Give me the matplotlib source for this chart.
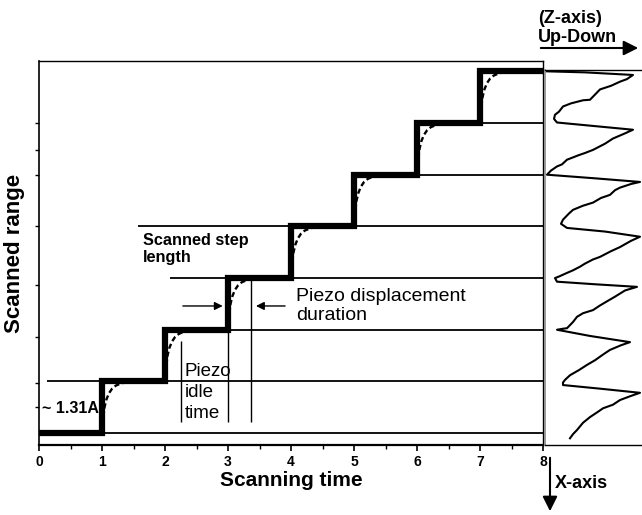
import numpy as np
import matplotlib.pyplot as plt
from matplotlib.patches import FancyArrowPatch

plt.rcParams['font.family'] = ['Liberation Sans', 'DejaVu Sans']

# staircase of piezo positions
step_t = [0, 1, 2, 3, 4, 5, 6, 7, 8]
step_lv = [0, 1, 2, 3, 4, 5, 6, 7, 7]

# thin level lines (level, start time)
level_y = [0, 1, 2, 3, 4, 5, 6]
level_start = [0, 0.12, 1.95, 2.08, 1.57, 5.0, 6.0]

# dashed relaxation after a step (offsets)
relax_dt = [0.0, 0.02, 0.04, 0.07, 0.11, 0.16, 0.22, 0.30, 0.40]
relax_dy = [0.0, 0.30, 0.50, 0.65, 0.77, 0.86, 0.92, 0.96, 0.99]

# thin vertical markers
mark_x = [2.25, 3.0, 3.37]
mark_lo = [0.21, 0.21, 0.21]
mark_hi = [1.78, 2.0, 2.97]

# height profile in the right panel (z in % of panel width, level)
prof_z = [2, 40, 88, 82, 75, 66, 55, 50, 45, 38, 32, 26, 18, 14, 10, 9, 12,
          50, 88, 80, 68, 60, 48, 40, 34, 22, 17, 12, 6, 2,
          50, 95, 86, 75, 70, 65, 56, 48, 38, 28, 24, 18, 16, 22,
          60, 95, 86, 75, 66, 55, 48, 40, 35, 28, 22, 14, 10, 12,
          50, 92, 80, 70, 62, 55, 48, 38, 32, 28, 22, 18, 12,
          45, 85, 76, 65, 58, 50, 42, 34, 25, 20, 18, 18,
          55, 95, 86, 75, 68, 58, 52, 45, 38, 32, 28, 25]
prof_lv = [7.0, 6.98, 6.93, 6.85, 6.80, 6.72, 6.65, 6.55, 6.45, 6.44, 6.41, 6.38, 6.32, 6.22, 6.16, 6.08, 6.01,
           5.94, 5.87, 5.80, 5.70, 5.60, 5.48, 5.42, 5.38, 5.29, 5.20, 5.16, 5.08, 5.00,
           4.93, 4.86, 4.82, 4.75, 4.70, 4.61, 4.55, 4.46, 4.40, 4.32, 4.25, 4.13, 4.05, 3.97,
           3.90, 3.80, 3.72, 3.60, 3.52, 3.41, 3.36, 3.28, 3.22, 3.15, 3.10, 3.03, 3.00, 2.93,
           2.88, 2.83, 2.76, 2.64, 2.55, 2.47, 2.38, 2.32, 2.25, 2.15, 2.03, 2.02, 2.00,
           1.88, 1.76, 1.70, 1.61, 1.52, 1.41, 1.32, 1.22, 1.12, 1.03, 0.98, 0.93,
           0.86, 0.78, 0.72, 0.64, 0.55, 0.48, 0.40, 0.31, 0.20, 0.06, -0.02, -0.10]

W, H = 642, 515
fig = plt.figure(figsize=(W / 100, H / 100), dpi=100)

ylo, yhi = -0.23, 7.2
ax = fig.add_axes([39 / W, (H - 445) / H, (543 - 39) / W, (445 - 61) / H])
ax.set_xlim(0, 8)
ax.set_ylim(ylo, yhi)

# thin horizontal level lines
ax.hlines(level_y, level_start, 8, color='black', lw=1.3)

# dashed relaxation curves
for k in range(1, 8):
    ax.plot(np.array(relax_dt) + k, np.array(relax_dy) + k - 1, color='black',
            lw=1.7, linestyle=(0, (2.2, 1.3)))

# thick staircase
ax.step(step_t, step_lv, where='post', color='black', lw=4.5, solid_joinstyle='miter')

# vertical markers
ax.vlines(mark_x, mark_lo, mark_hi, color='black', lw=1.0)

# arrows for displacement duration
arr = dict(arrowstyle='-|>', color='black', lw=1.0, mutation_scale=12)
ax.annotate('', xy=(2.96, 2.46), xytext=(2.24, 2.46), arrowprops=arr)
ax.annotate('', xy=(3.40, 2.46), xytext=(3.95, 2.46), arrowprops=arr)

ax.text(4.08, 2.46, 'Piezo displacement\nduration', fontsize=14, va='center',
        ha='left', linespacing=1.1)
ax.text(2.31, 0.79, 'Piezo\nidle\ntime', fontsize=13.5, va='center', ha='left',
        linespacing=1.3)
ax.text(1.65, 3.56, 'Scanned step\nlength', fontsize=11.7, fontweight='bold',
        va='center', ha='left', linespacing=1.15)
ax.text(0.04, 0.48, '~ 1.31A', fontsize=11.5, fontweight='bold', va='center', ha='left')

ax.set_xticks(range(0, 9))
ax.set_xticks(np.arange(0.5, 8, 1), minor=True)
ax.set_yticks([0.5, 0.97, 1.86, 2.87, 4.0, 5.0, 5.48, 6.0])
ax.set_yticklabels([])
ax.tick_params(axis='x', which='major', direction='out', length=4, width=1.2,
               labelsize=10, pad=3)
ax.tick_params(axis='x', which='minor', direction='out', length=3, width=1.0)
ax.tick_params(axis='y', direction='out', length=3, width=1.0)
for lab in ax.get_xticklabels():
    lab.set_fontweight('bold')

ax.spines['bottom'].set_linewidth(1.6)
ax.spines['left'].set_linewidth(1.2)
ax.spines['top'].set_linewidth(1.0)
ax.spines['right'].set_linewidth(1.0)

ax.set_xlabel('Scanning time', fontsize=15, fontweight='bold', labelpad=2)
ax.set_ylabel('Scanned range', fontsize=16, fontweight='bold')
ax.yaxis.set_label_coords(-14 / 504, 0.5)

# right panel with height profile
px_per_unit = (445 - 61) / (yhi - ylo)
ax2 = fig.add_axes([545 / W, (H - 445) / H, 100 / W, (445 - 70) / H])
ax2.set_xlim(0, 100)
ax2.set_ylim(ylo, ylo + (445 - 70) / px_per_unit)
ax2.plot(prof_z, prof_lv, color='black', lw=1.5)
ax2.set_xticks([])
ax2.set_yticks([])
ax2.spines['left'].set_color('#888888')
ax2.spines['left'].set_linewidth(1.2)
ax2.spines['right'].set_visible(False)
ax2.spines['top'].set_linewidth(1.0)
ax2.spines['bottom'].set_linewidth(1.0)

# axis direction labels and arrows
fig.text(538 / W, 1 - 28 / H, '(Z-axis)\nUp-Down', fontsize=13, fontweight='bold',
         va='center', ha='left', linespacing=1.15)
big = dict(arrowstyle='-|>', color='black', lw=1.5, mutation_scale=22)
fig.add_artist(FancyArrowPatch((538 / W, 1 - 48 / H), (641 / W, 1 - 48 / H),
                               transform=fig.transFigure, **big))
fig.add_artist(FancyArrowPatch((550 / W, 1 - 455 / H), (550 / W, 1 - 514 / H),
                               transform=fig.transFigure, **big))
fig.text(555 / W, 1 - 483 / H, 'X-axis', fontsize=13, fontweight='bold',
         va='center', ha='left')

fig.savefig('out.png', dpi=100)
